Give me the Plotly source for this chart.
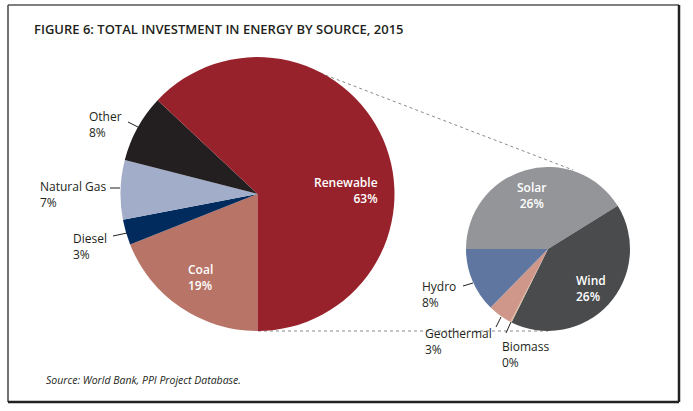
import plotly.graph_objects as go

W, H = 693, 411

# Main pie (share of total investment, %)
main_labels = ["Coal", "Diesel", "Natural Gas", "Other", "Renewable"]
main_values = [19, 3, 7, 8, 63]
main_colors = ["#B87467", "#002B5C", "#A2ADCA", "#231F20", "#98222B"]
main_text = ["19%", "3%", "7%", "8%", "63%"]

# Renewable breakdown (share of total investment, %)
ren_labels = ["Solar", "Wind", "Biomass", "Geothermal", "Hydro"]
ren_values = [26, 26, 0.15, 3, 8]
ren_colors = ["#939598", "#4A4B4D", "#D9B99B", "#CF978A", "#5F77A0"]
ren_text = ["26%", "26%", "0%", "3%", "8%"]

def px(x):
    return x / W

def py(y):
    return 1 - y / H

fig = go.Figure()
fig.add_trace(go.Pie(
    labels=main_labels, values=main_values, sort=False,
    direction="clockwise", rotation=180,
    marker=dict(colors=main_colors, line=dict(width=0)),
    textinfo="none", hoverinfo="label+percent",
    domain=dict(x=[px(120.5), px(394.5)], y=[py(331), py(57)]),
    showlegend=False,
))
fig.add_trace(go.Pie(
    labels=ren_labels, values=ren_values, sort=False,
    direction="clockwise", rotation=270,
    marker=dict(colors=ren_colors, line=dict(width=0)),
    textinfo="none", hoverinfo="label",
    domain=dict(x=[px(466), px(630)], y=[py(331), py(167)]),
    showlegend=False,
))

font = "Open Sans, Noto Sans, sans-serif"
dark = "#231F20"
annos = []

def label(text, x, y, color=dark, align="left", anchor="left", weight=500):
    annos.append(dict(text=text, x=px(x), y=py(y), xref="paper", yref="paper",
                      xanchor=anchor, yanchor="middle", align=align,
                      showarrow=False,
                      font=dict(family=font, size=12, color=color, weight=weight)))

# main pie labels
label(f"{main_labels[4]}<br>{main_text[4]}", 380, 190, "white", "right", "right", 600)
label(f"{main_labels[0]}<br>{main_text[0]}", 186, 277, "white", "left", "left", 600)
label(f"{main_labels[3]}<br>{main_text[3]}", 87, 125)
label(f"{main_labels[2]}<br>{main_text[2]}", 38, 194)
label(f"{main_labels[1]}<br>{main_text[1]}", 71, 246)
# renewable labels
label(f"{ren_labels[0]}<br>{ren_text[0]}", 531, 195, "white", "center", "center", 600)
label(f"{ren_labels[1]}<br>{ren_text[1]}", 574, 288, "white", "left", "left", 600)
label(f"{ren_labels[4]}<br>{ren_text[4]}", 420, 294)
label(f"{ren_labels[3]}<br>{ren_text[3]}", 423, 341)
label(f"{ren_labels[2]}<br>{ren_text[2]}", 500, 354)

annos.append(dict(text="FIGURE 6: TOTAL INVESTMENT IN ENERGY BY SOURCE, 2015",
                  x=px(32), y=py(29), xref="paper", yref="paper",
                  xanchor="left", yanchor="middle", showarrow=False,
                  font=dict(family=font, size=13, color=dark, weight=600)))
annos.append(dict(text="<i>Source: World Bank, PPI Project Database.</i>",
                  x=px(44), y=py(380), xref="paper", yref="paper",
                  xanchor="left", yanchor="middle", showarrow=False,
                  font=dict(family=font, size=10.5, color=dark)))

shapes = []
def seg(x0, y0, x1, y1, color=dark, width=1, dash="solid", layer="above"):
    shapes.append(dict(type="line", xref="paper", yref="paper",
                       x0=px(x0), y0=py(y0), x1=px(x1), y1=py(y1),
                       line=dict(color=color, width=width, dash=dash), layer=layer))

# leader lines
seg(128, 122, 138, 127)
seg(110, 188, 120, 188)
seg(113, 236, 127, 233)
seg(463, 286, 473, 283)
seg(496, 327, 501, 317)
seg(506, 333, 511, 322)
# connecting dotted lines
seg(320, 73, 573, 170, "#8a8a8a", 1, "dot", "below")
seg(258, 331, 548, 331, "#8a8a8a", 1, "dot", "below")
# frame
seg(8, 5, 679, 5, "#555555", 1.5)
seg(8, 5, 8, 402, "#444444", 1.5)
seg(679, 5, 679, 402, "#222222", 2.5)
seg(8, 402, 679, 402, "#222222", 2.5)

fig.update_layout(
    width=W, height=H, margin=dict(l=0, r=0, t=0, b=0),
    paper_bgcolor="white", plot_bgcolor="white",
    annotations=annos, shapes=shapes,
)
fig.write_html("out.html", config={"displayModeBar": False},
               post_script="document.body.style.margin='0';document.body.style.overflow='hidden';")
